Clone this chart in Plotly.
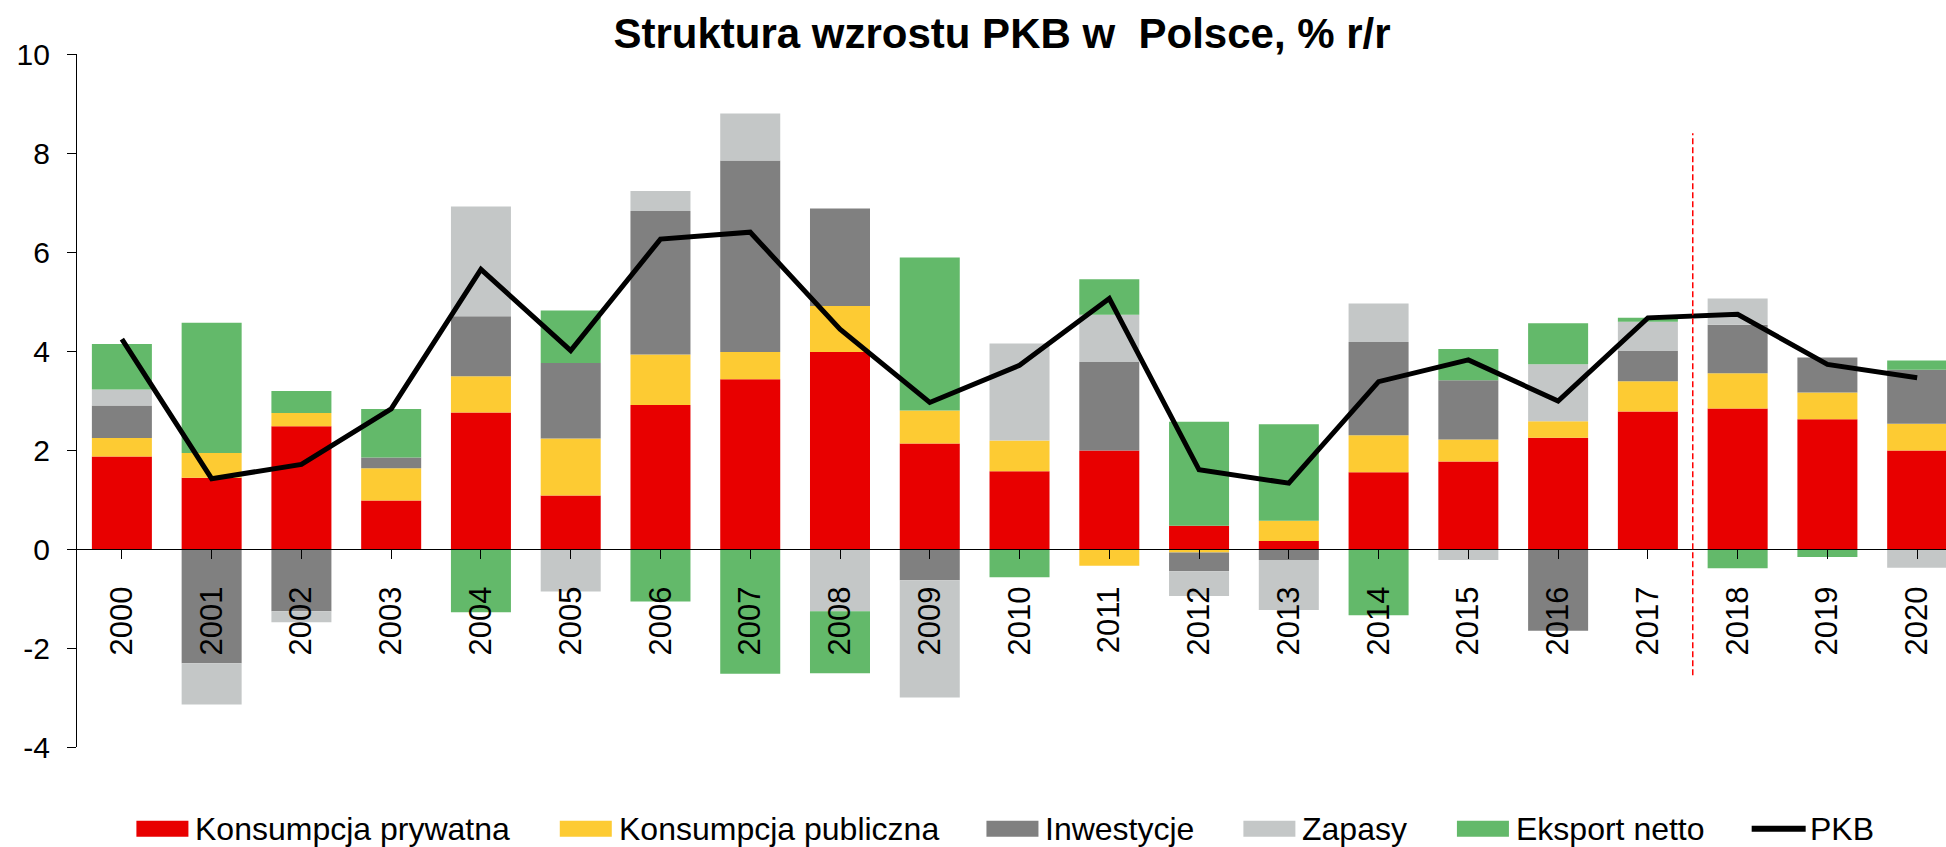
import plotly.graph_objects as go

years = [str(y) for y in range(2000, 2021)]
konsumpcja_prywatna = [1.87, 1.44, 2.48, 0.98, 2.76, 1.08, 2.91, 3.43, 3.98, 2.13, 1.57,
                       1.99, 0.47, 0.16, 1.55, 1.77, 2.25, 2.78, 2.84, 2.62, 1.99]
konsumpcja_publiczna = [0.37, 0.50, 0.27, 0.65, 0.73, 1.15, 1.02, 0.55, 0.93, 0.67, 0.62,
                        -0.34, -0.07, 0.41, 0.75, 0.44, 0.33, 0.61, 0.71, 0.54, 0.54]
inwestycje = [0.66, -2.31, -1.26, 0.22, 1.21, 1.53, 2.90, 3.87, 1.97, -0.63, 0.0,
              1.79, -0.38, -0.22, 1.88, 1.20, -1.65, 0.61, 0.98, 0.71, 1.09]
zapasy = [0.32, -0.83, -0.22, 0.0, 2.22, -0.86, 0.40, 0.95, -1.26, -2.37, 1.96,
          0.95, -0.50, -1.01, 0.78, -0.22, 1.15, 0.59, 0.53, 0.0, -0.38]
eksport_netto = [0.92, 2.63, 0.44, 0.98, -1.28, 1.06, -1.06, -2.52, -1.25, 3.09, -0.57,
                 0.72, 2.10, 1.95, -1.34, 0.63, 0.83, 0.08, -0.39, -0.16, 0.19]
pkb = [4.24, 1.42, 1.71, 2.83, 5.65, 4.01, 6.26, 6.40, 4.44, 2.96, 3.71,
       5.06, 1.60, 1.33, 3.38, 3.82, 2.99, 4.67, 4.74, 3.73, 3.46]

y_tick_values = [-4, -2, 0, 2, 4, 6, 8, 10]
y_tick_labels = ["-4", "-2", "0", "2", "4", "6", "8", "10"]

series_names = ["Konsumpcja prywatna", "Konsumpcja publiczna", "Inwestycje", "Zapasy", "Eksport netto"]
series_values = [konsumpcja_prywatna, konsumpcja_publiczna, inwestycje, zapasy, eksport_netto]
colors = ["#E80000", "#FDCB33", "#808080", "#C4C7C7", "#63B96A"]
line_name = "PKB"

# forecast separator (between 2017 and 2018)
separator_between = ("2017", "2018")
separator_range = (-2.55, 8.4)

FONT = "Liberation Sans, Arial, sans-serif"
W, H = 1946, 847
L, R = 77.3, 0
T, B = 54.3, 747.3          # pixel rows of plot top / bottom
CAT_PX = 89.75              # pixel width of one category


def px_x(px):
    return (px - L) / (W - L - R)


def px_y(py):
    return (B - py) / (B - T)


fig = go.Figure()
x_idx = list(range(len(years)))
for name, vals, col in zip(series_names, series_values, colors):
    fig.add_trace(go.Bar(x=x_idx, y=vals, name=name, marker=dict(color=col, line=dict(width=0)),
                         showlegend=False))

fig.add_trace(go.Scatter(x=x_idx, y=pkb, name=line_name, mode="lines",
                         line=dict(color="black", width=5), showlegend=False))

sep_x = (years.index(separator_between[0]) + years.index(separator_between[1])) / 2
fig.add_shape(type="line", xref="x", yref="y", x0=sep_x, x1=sep_x,
              y0=separator_range[0], y1=separator_range[1],
              line=dict(color="#FF0000", width=1.5, dash="6px,3px"), layer="above")

# ---- legend (drawn manually to match wide rectangular swatches) ----
legend_starts = [136.7, 560.0, 986.6, 1243.5, 1457.0, 1751.7]
swatch_w, swatch_h, text_gap = 52, 16, 7
legend_cy = 829
legend_labels = series_names + [line_name]
legend_colors = colors + ["black"]
for i, (lab, col, x0) in enumerate(zip(legend_labels, legend_colors, legend_starts)):
    if i < len(series_names):
        fig.add_shape(type="rect", xref="paper", yref="paper",
                      x0=px_x(x0), x1=px_x(x0 + swatch_w),
                      y0=px_y(legend_cy + swatch_h / 2), y1=px_y(legend_cy - swatch_h / 2),
                      fillcolor=col, line=dict(width=0), layer="above")
        tx = x0 + swatch_w + text_gap
    else:
        fig.add_shape(type="line", xref="paper", yref="paper",
                      x0=px_x(x0), x1=px_x(x0 + 54),
                      y0=px_y(legend_cy), y1=px_y(legend_cy),
                      line=dict(color=col, width=6), layer="above")
        tx = x0 + 54 + 4
    fig.add_annotation(text=lab, xref="paper", yref="paper", x=px_x(tx - 2), y=px_y(legend_cy),
                       xanchor="left", yanchor="middle", showarrow=False,
                       font=dict(family=FONT, size=32, color="black"))

zero_pos = (B - 549.3) / (B - T)

fig.update_layout(
    width=W, height=H,
    barmode="relative", bargap=1 - 60 / CAT_PX,
    plot_bgcolor="white", paper_bgcolor="white",
    margin=dict(l=L, r=R, t=T, b=H - B, autoexpand=False),
    font=dict(family=FONT, size=30, color="black"),
    title=dict(text="<b>Struktura wzrostu PKB w  Polsce, % r/r</b>",
               font=dict(family=FONT, size=42, color="black"),
               x=1002 / W, xref="container", xanchor="center",
               y=1 - 33 / H, yref="container", yanchor="middle"),
    xaxis=dict(range=[-0.5, -0.5 + (W - L - R) / CAT_PX],
               tickmode="array", tickvals=x_idx, ticktext=years,
               tickangle=-90, tickson="boundaries",
               ticks="outside", ticklen=9, tickcolor="black", tickwidth=1.2,
               showline=True, linecolor="black", linewidth=1.2,
               anchor="free", position=zero_pos,
               showgrid=False, zeroline=False, automargin=False,
               ticklabelstandoff=15,
               tickfont=dict(family=FONT, size=31, color="black")),
    yaxis=dict(range=[-4, 10], tickmode="array",
               tickvals=y_tick_values, ticktext=y_tick_labels,
               ticks="outside", ticklen=9, tickcolor="black", tickwidth=1.2,
               showline=True, linecolor="black", linewidth=1.2,
               showgrid=False, zeroline=False, automargin=False,
               ticklabelstandoff=11,
               tickfont=dict(family=FONT, size=30, color="black")),
    showlegend=False,
)

# remove the default 8px page margin so the figure sits at the window's top-left corner
fig.write_html("out.html", config={"displayModeBar": False},
               post_script="document.body.style.margin='0';")
